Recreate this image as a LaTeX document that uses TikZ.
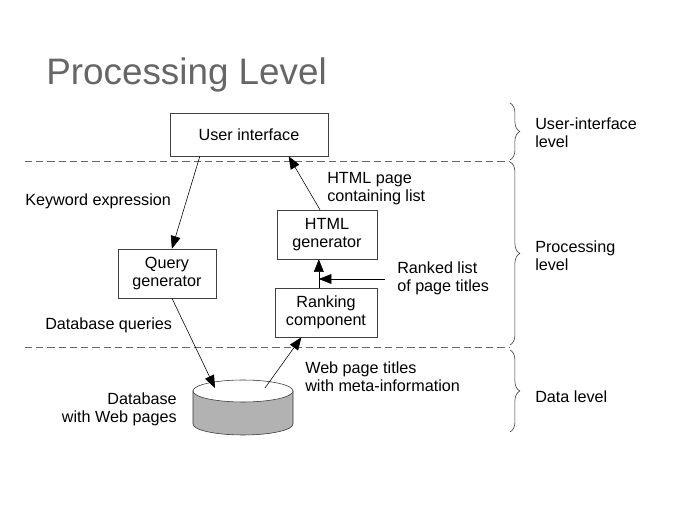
\documentclass[tikz,border=0pt]{standalone}
\usepackage{fontspec}
\setmainfont{Liberation Sans}
\usepackage{tikz}
\usetikzlibrary{calc,arrows.meta,decorations.pathreplacing}

\begin{document}
\begin{tikzpicture}[x=0.025cm,y=0.025cm,
    font=\fontsize{11.5}{12.8}\selectfont,
    box/.style={draw=black!75,thin,align=center,inner sep=0pt},
    lbl/.style={inner sep=0pt,align=left},
    flow/.style={thin,-{Triangle[length=9pt,width=7pt]}},
    level/.style={dashed,dash pattern=on 5pt off 3pt,black!60},
    lvlbrace/.style={decorate,decoration={brace,amplitude=7pt},thin,black!80}]
          \useasboundingbox (0,0) rectangle (678,520);
          \node[anchor=base west,inner sep=0pt,text=black!60,font=\fontsize{26.2}{30}\selectfont] (title) at (46,435) {Processing Level};
          \draw[level] (25,359)--(510,359);
          \draw[level] (25,173)--(510,173);
          \node[box,minimum width=3.95cm,minimum height=1.075cm] (ui) at (249,385.5) {User interface};
          \node[box,minimum width=2.45cm,minimum height=1.225cm] (query) at (167,246.5) {Query\\generator};
          \node[box,minimum width=2.5cm,minimum height=1.225cm] (html) at (327,285.5) {HTML\\generator};
          \node[box,minimum width=2.55cm,minimum height=1.225cm] (rank) at (326,207.5) {Ranking\\component};
          \filldraw[draw=black!80,fill=black!30] (193,129)--(193,96) arc[start angle=180,end angle=360,x radius=50,y radius=11]--(293,129)--cycle;
          \filldraw[draw=black!80,fill=white] (243,129) ellipse[x radius=50,y radius=11];
          \coordinate (dbin) at (215,132);
          \coordinate (dbout) at (265,132);
          \coordinate (rl) at (385,241);
          \node[lbl,anchor=west] (kw) at (25,319) {Keyword expression};
          \node[lbl,anchor=west] (dbq) at (45,195) {Database queries};
          \node[lbl,anchor=east,align=right] (db) at (177,111) {Database\\with Web pages};
          \node[lbl,anchor=west] (hp) at (327,331.5) {HTML page\\containing list};
          \node[lbl,anchor=west] (rlt) at (397,241.5) {Ranked list\\of page titles};
          \node[lbl,anchor=west] (wpt) at (305,143) {Web page titles\\with meta-information};
          \draw[flow] ($(ui.south west)!.19!(ui.south east)$)--($(query.north west)!.55!(query.north east)$);
          \draw[flow] ($(query.south west)!.55!(query.south east)$)--(dbin);
          \draw[flow] (dbout)--($(rank.south west)!.26!(rank.south east)$);
          \draw[flow] ($(rank.north west)!.43!(rank.north east)$) coordinate (rk)--(rk |- html.south);
          \draw[flow] (rl)--(rl -| rk);
          \draw[flow] ($(html.north west)!.43!(html.north east)$)--($(ui.south west)!.75!(ui.south east)$);
          \draw[lvlbrace] (510,417)--(510,360);
          \draw[lvlbrace] (510,358)--(510,175);
          \draw[lvlbrace] (510,170)--(510,88);
          \node[lbl,anchor=west] (uil) at (535,387) {User-interface\\level};
          \node[lbl,anchor=west] (pl) at (535,264) {Processing\\level};
          \node[lbl,anchor=west] (dl) at (535,123) {Data level};
        \end{tikzpicture}
\end{document}
